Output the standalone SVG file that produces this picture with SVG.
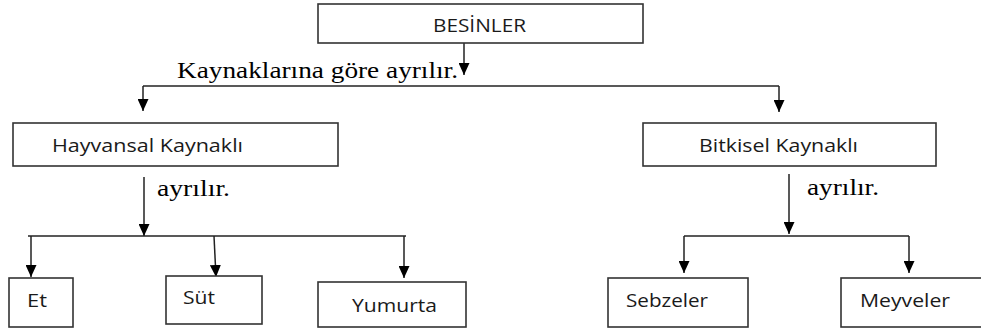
<svg xmlns="http://www.w3.org/2000/svg" width="981" height="329" viewBox="0 0 981 329">
  <defs>
    <marker id="arrow" viewBox="0 0 12 11" refX="12" refY="5.5" markerWidth="12" markerHeight="11" markerUnits="userSpaceOnUse" orient="auto">
      <path d="M0,0 L12,5.5 L0,11 Z" fill="#000"/>
    </marker>
    <style>
      .box { fill: #fff; stroke: #333; stroke-width: 1.6; }
      .label { font-family: "Open Sans", "Noto Sans", sans-serif; font-size: 18px; fill: #1a1a1a; }
      .note { font-family: "Liberation Serif", "Times New Roman", serif; font-size: 23px; fill: #000; }
      .wire { fill: none; stroke: #222; stroke-width: 1.5; }
      .arrowed { marker-end: url(#arrow); }
    </style>
  </defs>

  <rect width="981" height="329" fill="#fff"/>

  <g id="connectors">
    <!-- root to first split -->
    <line class="wire arrowed" x1="464" y1="43" x2="464" y2="75"/>
    <polyline class="wire" points="143,86 779,86"/>
    <line class="wire arrowed" x1="143" y1="86" x2="143" y2="111"/>
    <line class="wire arrowed" x1="779" y1="86" x2="779" y2="112"/>
    <!-- animal branch -->
    <line class="wire arrowed" x1="144" y1="177" x2="144" y2="236"/>
    <line class="wire" x1="28" y1="236" x2="406" y2="236"/>
    <line class="wire arrowed" x1="31" y1="236" x2="31" y2="277"/>
    <line class="wire arrowed" x1="214" y1="236" x2="216" y2="277"/>
    <line class="wire arrowed" x1="404" y1="236" x2="404" y2="278"/>
    <!-- plant branch -->
    <line class="wire arrowed" x1="789" y1="174" x2="789" y2="234"/>
    <line class="wire" x1="684" y1="236" x2="909" y2="236"/>
    <line class="wire arrowed" x1="684" y1="236" x2="684" y2="273"/>
    <line class="wire arrowed" x1="909" y1="236" x2="909" y2="273"/>
    <!-- connector notes -->
    <text class="note" x="177" y="78" textLength="281" lengthAdjust="spacingAndGlyphs">Kaynaklarına göre ayrılır.</text>
    <text class="note" x="157" y="196" textLength="73" lengthAdjust="spacingAndGlyphs">ayrılır.</text>
    <text class="note" x="807" y="195" textLength="72" lengthAdjust="spacingAndGlyphs">ayrılır.</text>
  </g>

  <g id="besinler">
    <rect class="box" x="318" y="4" width="325" height="39"/>
    <text class="label" x="433" y="32" textLength="93" lengthAdjust="spacingAndGlyphs">BESİNLER</text>
  </g>

  <g id="hayvansal">
    <rect class="box" x="13" y="123" width="325" height="43"/>
    <text class="label" x="52" y="152" textLength="191" lengthAdjust="spacingAndGlyphs">Hayvansal Kaynaklı</text>
  </g>

  <g id="bitkisel">
    <rect class="box" x="643" y="123" width="293" height="43"/>
    <text class="label" x="699" y="152" textLength="159" lengthAdjust="spacingAndGlyphs">Bitkisel Kaynaklı</text>
  </g>

  <g id="et">
    <rect class="box" x="9" y="278" width="64" height="49"/>
    <text class="label" x="27" y="307" textLength="20" lengthAdjust="spacingAndGlyphs">Et</text>
  </g>

  <g id="sut">
    <rect class="box" x="166" y="276" width="96" height="48"/>
    <text class="label" x="183" y="304" textLength="32" lengthAdjust="spacingAndGlyphs">Süt</text>
  </g>

  <g id="yumurta">
    <rect class="box" x="318" y="282" width="148" height="45"/>
    <text class="label" x="352" y="312" textLength="85" lengthAdjust="spacingAndGlyphs">Yumurta</text>
  </g>

  <g id="sebzeler">
    <rect class="box" x="608" y="278" width="140" height="49"/>
    <text class="label" x="626" y="307" textLength="82" lengthAdjust="spacingAndGlyphs">Sebzeler</text>
  </g>

  <g id="meyveler">
    <rect class="box" x="841" y="278" width="145" height="49"/>
    <text class="label" x="860" y="307" textLength="90" lengthAdjust="spacingAndGlyphs">Meyveler</text>
  </g>
</svg>
